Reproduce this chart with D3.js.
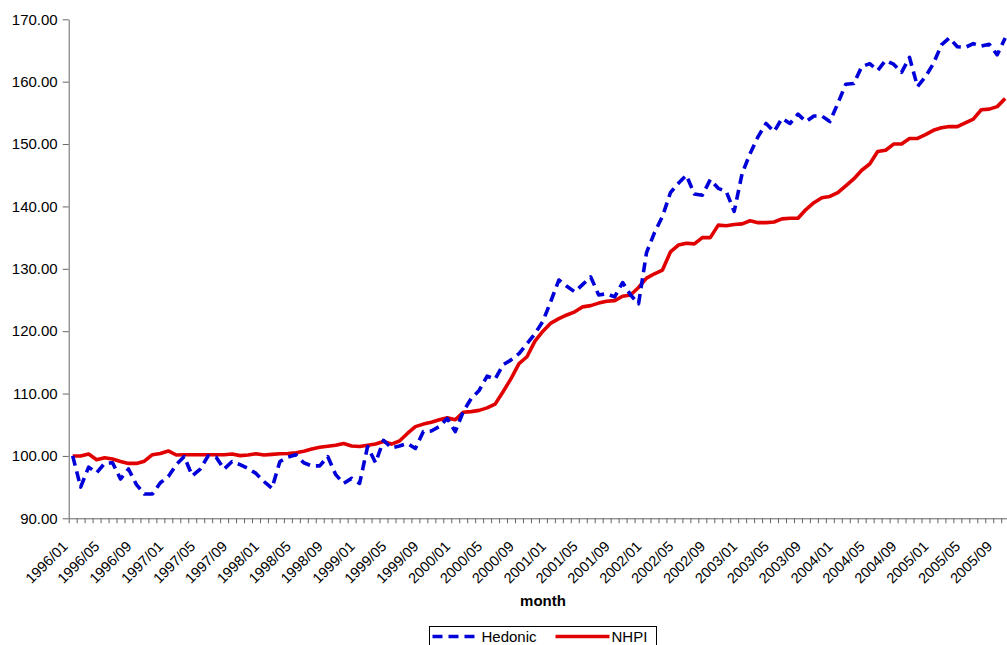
<!DOCTYPE html>
<html>
<head>
<meta charset="utf-8">
<script src="https://cdn.jsdelivr.net/npm/d3@7"></script>
<style>
  body { margin: 0; background: #fff; }
  svg { display: block; font-family: "Liberation Sans", Arial, sans-serif; }
</style>
</head>
<body>
<div id="chart"></div>
<script>
// months 1996/01 .. 2005/12 (category axis)
var months = d3.timeMonths(new Date(1996, 0, 1), new Date(2006, 0, 1)).map(d3.timeFormat("%Y/%m"));

var yTicks = [90, 100, 110, 120, 130, 140, 150, 160, 170];

// values, 1996/01 onwards (last visible month 2005/10)
var hedonic = [
  100.0, 95.0, 98.2, 97.3, 98.8, 98.9, 96.3, 97.9, 95.4, 93.9, 93.9, 95.7,
  96.7, 98.6, 99.9, 96.8, 97.9, 100.0, 99.8, 97.9, 99.1, 98.6, 98.0, 97.2,
  95.9, 94.8, 99.1, 99.8, 100.2, 98.9, 98.4, 98.4, 99.9, 97.0, 95.6, 96.4,
  95.6, 101.5, 98.9, 102.5, 101.3, 101.6, 102.0, 101.2, 103.9, 104.0, 104.7, 106.0,
  103.9, 107.1, 109.2, 110.5, 112.8, 112.3, 114.6, 115.4, 116.4, 118.0, 119.6, 121.6,
  124.8, 128.2, 127.2, 126.3, 127.5, 128.7, 125.8, 126.0, 125.5, 127.8, 125.8, 124.4,
  132.6, 135.8, 138.4, 142.2, 143.7, 145.0, 142.0, 141.8, 144.3, 142.9, 142.4, 139.2,
  145.3, 148.5, 151.2, 153.3, 152.0, 154.1, 153.3, 154.8, 153.6, 154.5, 154.5, 153.6,
  156.5, 159.6, 159.7, 162.4, 162.9, 161.8, 163.4, 162.8, 161.5, 163.9, 159.2, 160.8,
  162.9, 165.9, 167.0, 165.6, 165.5, 166.1, 165.7, 166.0, 164.3, 167.0
];

var nhpi = [
  100.0, 100.0, 100.3, 99.4, 99.7, 99.5, 99.1, 98.8, 98.8, 99.15, 100.2, 100.4,
  100.8, 100.15, 100.2, 100.2, 100.2, 100.2, 100.2, 100.2, 100.3, 100.05, 100.15, 100.35,
  100.15, 100.25, 100.35, 100.4, 100.5, 100.75, 101.1, 101.4, 101.55, 101.7, 102.0, 101.6,
  101.5, 101.7, 101.9, 102.3, 101.9, 102.4, 103.6, 104.7, 105.1, 105.4, 105.8, 106.1,
  105.8, 107.0, 107.1, 107.3, 107.7, 108.3, 110.3, 112.4, 114.8, 115.9, 118.4, 120.0,
  121.3, 122.0, 122.6, 123.1, 123.9, 124.1, 124.5, 124.8, 124.9, 125.6, 125.8, 127.0,
  128.5, 129.2, 129.8, 132.7, 133.8, 134.1, 134.0, 135.0, 135.0, 137.0, 136.9, 137.1,
  137.2, 137.7, 137.4, 137.4, 137.5, 138.0, 138.1, 138.1, 139.5, 140.6, 141.4, 141.6,
  142.2, 143.3, 144.4, 145.8, 146.8, 148.8, 149.0, 150.0, 150.0, 150.9, 150.9, 151.5,
  152.2, 152.6, 152.8, 152.8, 153.4, 154.0, 155.5, 155.6, 156.0, 157.3
];

var seriesNames = ["Hedonic", "NHPI"];
var seriesColors = ["#0000d8", "#e00000"];

var chartWidth = 1007, chartHeight = 645;
var plotLeft = 68.7, plotTop = 19.3, plotBottom = 518.3, step = 7.97;

var svg = d3.select("#chart").append("svg")
  .attr("width", chartWidth)
  .attr("height", chartHeight);

// plot is wider than the picture: right part is cut off like the original
var x = d3.scaleBand().domain(months).range([plotLeft, plotLeft + step * months.length]);
var xEdge = d3.scaleLinear().domain([0, months.length]).range([plotLeft, plotLeft + step * months.length]);
var y = d3.scaleLinear().domain([90, 170]).range([plotBottom, plotTop]);

var cx = function(i) { return x(months[i]) + x.bandwidth() / 2; };

// y axis
var yAxis = svg.append("g")
  .attr("transform", "translate(" + plotLeft + ",0)")
  .call(d3.axisLeft(y).tickValues(yTicks).tickFormat(d3.format(".2f")).tickSize(6).tickPadding(5).tickSizeOuter(0));
yAxis.selectAll("text").attr("font-size", 15).attr("fill", "#000").attr("font-family", "Liberation Sans, Arial, sans-serif");
yAxis.selectAll("line, path").attr("stroke", "#666");

// x axis: small ticks between categories
var xTickAxis = svg.append("g")
  .attr("transform", "translate(0," + plotBottom + ")")
  .call(d3.axisBottom(xEdge).tickValues(d3.range(months.length + 1)).tickFormat("").tickSize(5).tickSizeOuter(0));
xTickAxis.selectAll("line, path").attr("stroke", "#666");

// x labels every 4 months
var xLabels = svg.append("g")
  .attr("transform", "translate(0," + plotBottom + ")")
  .call(d3.axisBottom(x).tickValues(months.filter(function(d, i) { return i % 4 === 0; })).tickSize(0).tickSizeOuter(0));
xLabels.select(".domain").remove();
xLabels.selectAll("text")
  .attr("font-size", 14.5)
  .attr("fill", "#000")
  .attr("font-family", "Liberation Sans, Arial, sans-serif")
  .attr("text-anchor", "end")
  .attr("dy", null)
  .attr("y", null)
  .attr("transform", "translate(-4,29) rotate(-45)");

svg.append("text")
  .attr("x", 543)
  .attr("y", 606)
  .attr("text-anchor", "middle")
  .attr("font-size", 15)
  .attr("font-weight", "bold")
  .text("month");

// lines
var line = d3.line()
  .x(function(d, i) { return cx(i); })
  .y(function(d) { return y(d); });

svg.append("path")
  .datum(nhpi)
  .attr("fill", "none")
  .attr("stroke", seriesColors[1])
  .attr("stroke-width", 3.6)
  .attr("stroke-linejoin", "round")
  .attr("d", line);

svg.append("path")
  .datum(hedonic)
  .attr("fill", "none")
  .attr("stroke", seriesColors[0])
  .attr("stroke-width", 3.6)
  .attr("stroke-dasharray", "10,6")
  .attr("stroke-linejoin", "round")
  .attr("d", line);

// legend
var legend = svg.append("g").attr("transform", "translate(429.5,626.5)");
legend.append("rect")
  .attr("width", 227)
  .attr("height", 26)
  .attr("fill", "#fff")
  .attr("stroke", "#000")
  .attr("stroke-width", 1);

var legendItems = [
  {name: seriesNames[0], color: seriesColors[0], dash: "10,6", x0: 3, x1: 49, tx: 52},
  {name: seriesNames[1], color: seriesColors[1], dash: null, x0: 126, x1: 180, tx: 182}
];
legendItems.forEach(function(d) {
  legend.append("line")
    .attr("x1", d.x0).attr("x2", d.x1)
    .attr("y1", 10).attr("y2", 10)
    .attr("stroke", d.color)
    .attr("stroke-width", 3.5)
    .attr("stroke-dasharray", d.dash);
  legend.append("text")
    .attr("x", d.tx)
    .attr("y", 15.5)
    .attr("font-size", 15)
    .text(d.name);
});
</script>
</body>
</html>
